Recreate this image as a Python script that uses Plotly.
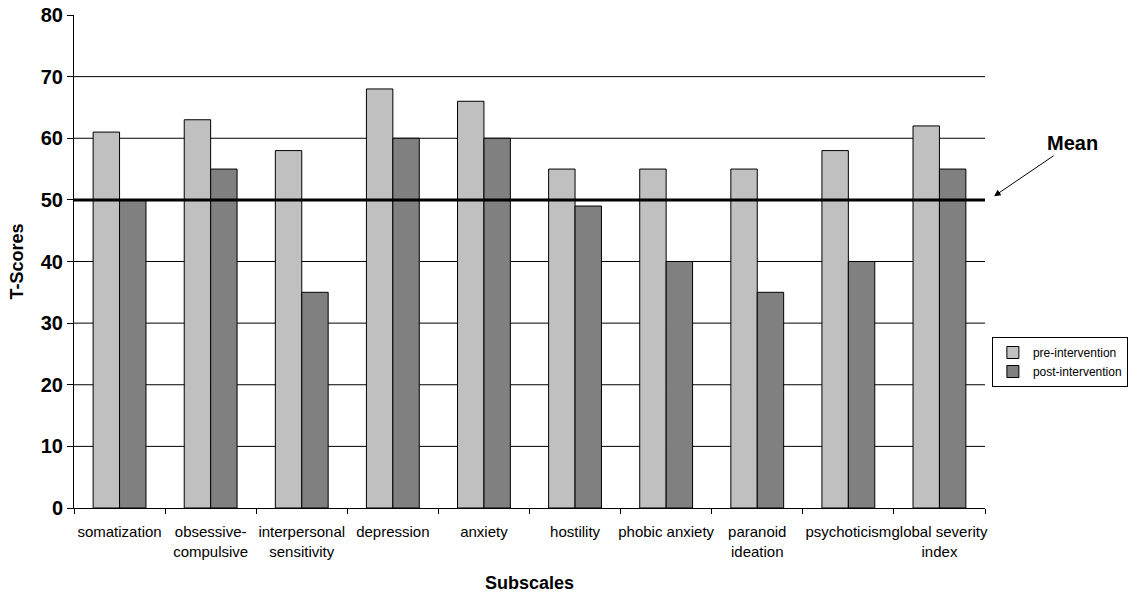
import plotly.graph_objects as go

categories = ["somatization", "obsessive-<br>compulsive", "interpersonal<br>sensitivity", "depression",
              "anxiety", "hostility", "phobic anxiety", "paranoid<br>ideation", "psychoticism",
              "global severity<br>index"]
pre_values = [61, 63, 58, 68, 66, 55, 55, 55, 58, 62]
post_values = [50, 55, 35, 60, 60, 49, 40, 35, 40, 55]
y_ticks = [0, 10, 20, 30, 40, 50, 60, 70, 80]
grid_values = [10, 20, 30, 40, 50, 60, 70]
mean_value = 50

FONT = "Liberation Sans, Arial, sans-serif"

fig = go.Figure()
fig.add_trace(go.Bar(x=categories, y=pre_values, name="pre-intervention",
                     marker=dict(color="#C0C0C0", line=dict(color="black", width=1))))
fig.add_trace(go.Bar(x=categories, y=post_values, name="post-intervention",
                     marker=dict(color="#808080", line=dict(color="black", width=1))))

shapes = []
for g in grid_values:
    shapes.append(dict(type="line", xref="paper", yref="y", x0=0, x1=1, y0=g, y1=g,
                       line=dict(color="black", width=1), layer="below"))
shapes.append(dict(type="line", xref="paper", yref="y", x0=0, x1=1, y0=mean_value, y1=mean_value,
                   line=dict(color="black", width=3), layer="above"))

fig.update_layout(
    width=1131, height=597,
    margin=dict(l=74, r=146, t=15, b=89),
    plot_bgcolor="white", paper_bgcolor="white",
    barmode="group", bargap=0.42, bargroupgap=0,
    font=dict(family=FONT, color="black", size=13),
    shapes=shapes,
    xaxis=dict(
        type="category", showgrid=False, showline=True, linecolor="black", linewidth=1,
        ticks="outside", tickson="boundaries", ticklen=5, tickcolor="black",
        tickfont=dict(family=FONT, size=15, color="black"), tickangle=0,
        ticklabelstandoff=10, automargin=False,
        title=dict(text="Subscales", font=dict(family=FONT, size=18, weight="bold"), standoff=17),
    ),
    yaxis=dict(
        range=[0, 80], tickvals=y_ticks, showgrid=False, zeroline=False,
        showline=True, linecolor="black", linewidth=1,
        ticks="outside", ticklen=6, tickcolor="black", automargin=False,
        ticklabeloverflow="allow",
        tickfont=dict(family=FONT, size=20, color="black", weight="bold"),
        title=dict(text="T-Scores", font=dict(family=FONT, size=18, weight="bold"), standoff=12),
    ),
    legend=dict(xref="container", yref="container", x=0.877, y=0.4355,
                xanchor="left", yanchor="top",
                bordercolor="black", borderwidth=1, bgcolor="white",
                font=dict(family=FONT, size=12), tracegroupgap=0,
                itemwidth=30),
    annotations=[dict(
        x=1.010, y=50.6, xref="paper", yref="y",
        text="Mean", showarrow=True, arrowhead=2, arrowsize=1.3, arrowwidth=1,
        arrowcolor="black", ax=78, ay=-53,
        font=dict(family=FONT, size=20, color="black", weight="bold"),
    )],
)

fig.write_html("out.html", config={"displayModeBar": False},
               post_script="document.body.style.margin='0';")
